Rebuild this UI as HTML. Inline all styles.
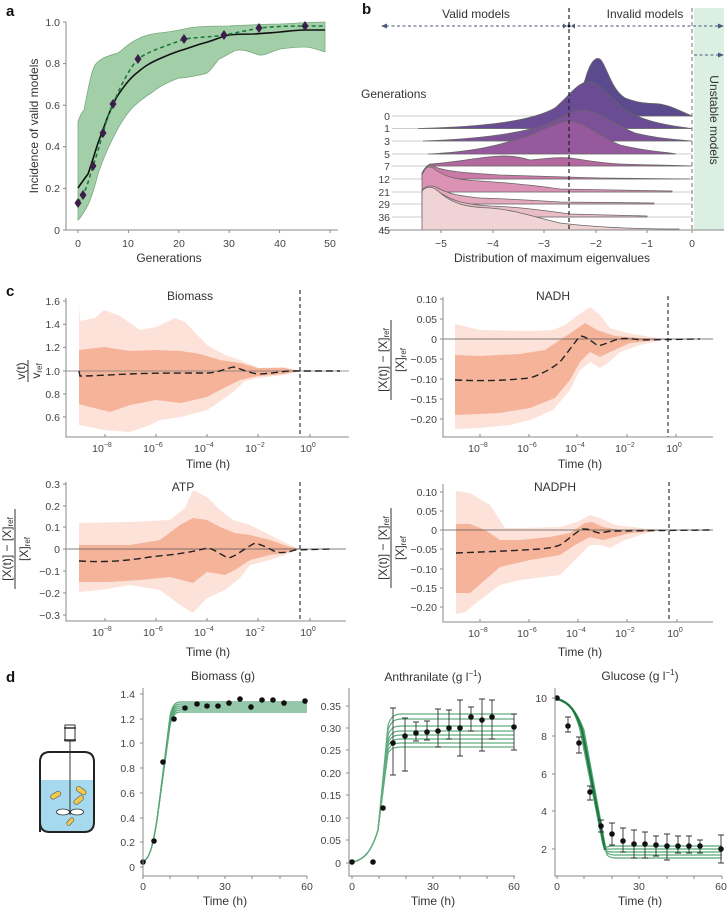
<!DOCTYPE html>
<html><head><meta charset="utf-8"><style>
html,body{margin:0;padding:0;background:#fff;}
svg{display:block;font-family:"Liberation Sans",sans-serif;}
.t{font-size:10.5px;fill:#444;}
.l{font-size:12px;fill:#333;}
.p{font-size:15px;font-weight:bold;fill:#111;}
.ax{stroke:#888;stroke-width:1;fill:none;}
</style></head><body>
<svg width="727" height="908" viewBox="0 0 727 908" xmlns="http://www.w3.org/2000/svg">
<!-- Panel labels -->
<text class="p" x="6" y="16">a</text>
<text class="p" x="362" y="14">b</text>
<text class="p" x="6" y="296">c</text>
<text class="p" x="6" y="682">d</text>

<!-- ===== Panel a ===== -->
<path d="M78,122 C80,115 82,112 84,110 C88,90 91,72 95,65 C100,58 108,56 118,53 C125,48 130,42 138,39 C145,35 152,34 159,33 C170,32 180,30 189,28 C200,26 215,26 229,26 C250,25 265,24 280,24 C300,23 315,22 325,22 L325,52 C318,50 312,47 305,47 C295,47 288,48 280,49 C270,52 264,56 259,55 C250,52 242,48 234,51 C228,54 224,57 219,59 C212,68 208,74 204,74 C195,76 186,78 179,78 C168,82 160,86 154,91 C145,97 135,104 128,113 C121,122 117,130 113,138 C107,150 102,162 98,174 C95,186 92,196 88,205 C84,212 81,218 78,220 Z" fill="#a3cfa8" stroke="#7aa97f" stroke-width="0.8"/>
<path d="M78,188 C82,182 85,178 88,174 C92,163 95,152 98,143 C102,132 105,124 108,116 C112,107 114,101 118,95 C125,85 130,78 138,72 C145,66 150,63 159,59 C168,55 173,53 179,51 C190,48 196,45 204,43 C215,40 220,37 229,35 C238,34 246,34 254,34 C265,33 272,33 280,32 C290,31 297,30 305,30 L325,30" fill="none" stroke="#111" stroke-width="1.6"/>
<path d="M78,203 L83,195 C88,185 90,175 93,166 C97,155 100,143 103,133 C106,123 109,112 113,104 C120,88 128,70 138,59 C150,50 170,45 184,39 C200,37 212,37 224,35 C240,32 250,30 259,28 C280,26 295,26 305,26 L325,26" fill="none" stroke="#1b7a3e" stroke-width="1.6" stroke-dasharray="4,3"/>
<g fill="#3b1d4a">
<path d="M78,198 l3.5,5 -3.5,5 -3.5,-5z"/><path d="M83,190 l3.5,5 -3.5,5 -3.5,-5z"/><path d="M93,161 l3.5,5 -3.5,5 -3.5,-5z"/><path d="M103,128 l3.5,5 -3.5,5 -3.5,-5z"/><path d="M113,99 l3.5,5 -3.5,5 -3.5,-5z"/><path d="M138,54 l3.5,5 -3.5,5 -3.5,-5z"/><path d="M184,34 l3.5,5 -3.5,5 -3.5,-5z"/><path d="M224,30 l3.5,5 -3.5,5 -3.5,-5z"/><path d="M259,23 l3.5,5 -3.5,5 -3.5,-5z"/><path d="M305,21 l3.5,5 -3.5,5 -3.5,-5z"/>
</g>
<path class="ax" d="M66,22 V230 H338"/>
<g class="ax"><path d="M63,22h3M63,63.6h3M63,105.2h3M63,146.8h3M63,188.4h3M63,230h3"/><path d="M78,230v3M128.4,230v3M178.8,230v3M229.2,230v3M279.6,230v3M330,230v3"/></g>
<g class="t" text-anchor="end"><text x="60" y="26">1.0</text><text x="60" y="67">0.8</text><text x="60" y="109">0.6</text><text x="60" y="150">0.4</text><text x="60" y="192">0.2</text><text x="60" y="234">0</text></g>
<g class="t" text-anchor="middle"><text x="78" y="247">0</text><text x="128" y="247">10</text><text x="179" y="247">20</text><text x="229" y="247">30</text><text x="280" y="247">40</text><text x="330" y="247">50</text></g>
<text class="l" x="169" y="262" text-anchor="middle">Generations</text>
<text class="l" x="38" y="126" text-anchor="middle" transform="rotate(-90 38 126)">Incidence of valid models</text>

<!-- ===== Panel b ===== -->
<rect x="694" y="8" width="30" height="222" fill="#dcefe3"/>
<text class="l" x="710" y="120" text-anchor="middle" transform="rotate(90 710 120)">Unstable models</text>
<text class="l" x="476" y="18" text-anchor="middle">Valid models</text>
<text class="l" x="645" y="18" text-anchor="middle">Invalid models</text>
<g stroke="#4a5a7a" stroke-width="1" stroke-dasharray="3,2.5" fill="none"><path d="M386,26 H566"/><path d="M572,26 H719"/><path d="M694,55 H719"/></g>
<g fill="#4a5a7a"><path d="M381,26 l6,-2.5 v5z"/><path d="M567,26 l-4,-2.5v5z"/><path d="M571,26 l4,-2.5v5z"/><path d="M724,26 l-6,-2.5 v5z"/><path d="M724,55 l-6,-2.5 v5z"/></g>
<circle cx="569" cy="26" r="1.5" fill="#111"/>
<g stroke="#ccc" stroke-width="1"><path d="M392,116H692M392,128.5H692M392,141H692M392,154H692M392,166H692M392,179H692M392,192H692M392,204H692M392,217H692M392,230H692"/></g>
<g stroke="#666" stroke-width="0.8">
<path fill="#5b4b8e" d="M535,116 C560,114 575,105 585,80 C590,62 596,55 601,60 C608,70 612,90 625,98 C640,104 650,103 660,104 C672,106 682,112 692,116 Z"/>
<path fill="#6a4c94" d="M418,128.5 C480,127 530,122 555,108 C570,95 578,82 588,82 C600,82 610,98 625,110 C645,122 670,126 692,128.5 Z"/>
<path fill="#7d5198" d="M423,141 C480,139 520,133 545,125 C565,116 575,109 585,110 C600,112 615,125 635,133 C660,139 680,140 692,141Z"/>
<path fill="#97599d" d="M428,154 C470,152 500,146 530,135 C550,127 560,121 570,121 C585,122 600,137 620,145 C645,151 665,152 676,154Z"/>
<path fill="#b3689f" d="M427,166 L430,164 C470,162 500,150 530,160 C550,158 560,157 570,158 C585,160 600,163 620,164 C645,165 670,165 692,166Z"/>
<path fill="#c97aa8" d="M422,179 L422,173 C425,167 428,164 433,166 C445,172 470,173 500,175 C530,176 560,177 600,178 L690,179 Z"/>
<path fill="#db92b4" d="M422,192 L422,175 C425,168 428,165 433,168 C445,178 460,180 480,181 C510,183 540,186 560,189 L672,191 L672,192 Z"/>
<path fill="#e4a9bd" d="M422,204 L422,190 C426,186 430,185 436,187 C448,194 460,196 480,198 C510,199 530,200 560,202 L654,203 L654,204 Z"/>
<path fill="#eabcc6" d="M422,217 L422,193 C426,188 430,187 436,190 C450,200 460,204 490,206 C520,207 540,210 570,214 L647,216 L647,217 Z"/>
<path fill="#f0d3d5" d="M422,230 L422,191 C426,186 432,186 438,191 C452,204 465,207 490,208 C515,210 530,216 560,223 C600,228 640,229 679,229 L679,230 Z"/>
</g>
<path d="M569,8 V232" stroke="#222" stroke-width="1.2" stroke-dasharray="4,3"/>
<path d="M692,8 V232" stroke="#888" stroke-width="1.2" stroke-dasharray="4,3"/>
<path class="ax" d="M380,230 H724"/>
<g class="ax"><path d="M441,230v3M493,230v3M544,230v3M596,230v3M647,230v3M692,230v3"/></g>
<g class="t" text-anchor="middle"><text x="441" y="247">−5</text><text x="493" y="247">−4</text><text x="544" y="247">−3</text><text x="596" y="247">−2</text><text x="647" y="247">−1</text><text x="692" y="247">0</text></g>
<text class="l" x="552" y="262" text-anchor="middle">Distribution of maximum eigenvalues</text>
<text class="l" x="361" y="98">Generations</text>
<g class="t" text-anchor="end"><text x="390" y="120">0</text><text x="390" y="132">1</text><text x="390" y="145">3</text><text x="390" y="158">5</text><text x="390" y="170">7</text><text x="390" y="183">12</text><text x="390" y="196">21</text><text x="390" y="208">29</text><text x="390" y="221">36</text><text x="390" y="234">45</text></g>

<!-- ===== Panel c: Biomass ===== -->
<path fill="#fce2d8" d="M79,305 L80,321 L95,318 L104,310 L120,316 L140,330 L156,327 L175,318 L185,322 L207,345 L225,355 L240,360 L258,368 L284,367 L300,371 L284,375 L258,378 L245,381 L233,392 L215,405 L207,410 L181,417 L160,420 L150,425 L130,432 L104,430 L90,427 L79,425 Z"/>
<path fill="#f5b39a" d="M79,350 L104,347 L130,351 L156,350 L181,351 L200,354 L220,360 L240,363 L258,368 L284,368 L300,371 L284,374 L258,376 L240,380 L220,390 L207,397 L181,403 L156,400 L130,405 L110,412 L90,407 L79,404 Z"/>
<path d="M66,371H349" stroke="#777" stroke-width="0.8"/>
<path d="M79,371 L80,376 C95,376 104,375 130,374 C150,373 181,373 207,373 C215,373 222,370 233,367 C240,368 245,372 258,374 C268,374 275,372 290,371 L340,371" fill="none" stroke="#222" stroke-width="1.4" stroke-dasharray="7,4"/>
<path d="M300,290 V437" stroke="#222" stroke-width="1.1" stroke-dasharray="4,3"/>
<path class="ax" d="M66,298 V437 H349"/>
<g class="ax"><path d="M63,301h3M63,324.2h3M63,347.4h3M63,371h3M63,394h3M63,417h3"/><path d="M105,437v-3M156,437v-3M207,437v-3M258,437v-3M310,437v-3"/></g>
<g class="t" text-anchor="end"><text x="60" y="305">1.6</text><text x="60" y="328">1.4</text><text x="60" y="351">1.2</text><text x="60" y="375">1.0</text><text x="60" y="398">0.8</text><text x="60" y="421">0.6</text></g>
<g class="t" text-anchor="middle"><text x="102" y="452">10<tspan font-size="7" dy="-5">−8</tspan></text><text x="153" y="452">10<tspan font-size="7" dy="-5">−6</tspan></text><text x="204" y="452">10<tspan font-size="7" dy="-5">−4</tspan></text><text x="255" y="452">10<tspan font-size="7" dy="-5">−2</tspan></text><text x="308" y="452">10<tspan font-size="7" dy="-5">0</tspan></text></g>
<text class="l" x="208" y="468" text-anchor="middle">Time (h)</text>
<text class="l" x="190" y="300" text-anchor="middle">Biomass</text>
<g transform="rotate(-90 30 371)"><text class="l" x="30" y="366" text-anchor="middle">v(t)</text><path d="M19,369H41" stroke="#333"/><text class="l" x="30" y="381" text-anchor="middle">v<tspan font-size="8" dy="2">ref</tspan></text></g>

<!-- ===== Panel c: NADH ===== -->
<path fill="#fce2d8" d="M455,324 L480,330 L529,331 L553,330 L565,325 L578,315 L590,307 L600,315 L610,328 L627,333 L651,337 L666,339 L640,345 L620,352 L608,363 L600,368 L590,362 L580,370 L570,390 L553,410 L530,420 L510,425 L480,428 L455,429 Z"/>
<path fill="#f5b39a" d="M455,355 L480,356 L520,354 L545,350 L560,340 L575,330 L585,323 L597,330 L615,336 L640,338 L666,339 L630,343 L610,352 L600,357 L590,352 L580,362 L570,380 L555,398 L530,408 L500,413 L455,415 Z"/>
<path d="M443,339H713" stroke="#555" stroke-width="0.8"/>
<path d="M455,380 C480,381 500,381 530,378 C545,373 555,366 560,362 C568,352 572,346 580,336 C585,336 590,340 598,346 C602,345 605,344 615,340 C622,338 630,338 640,340 L700,339" fill="none" stroke="#222" stroke-width="1.4" stroke-dasharray="7,4"/>
<path d="M668,296 V437" stroke="#222" stroke-width="1.1" stroke-dasharray="4,3"/>
<path class="ax" d="M443,297 V437 H713"/>
<g class="ax"><path d="M440,299h3M440,319h3M440,339h3M440,359h3M440,379h3M440,399h3M440,419h3"/><path d="M480,437v-3M529,437v-3M577,437v-3M627,437v-3M676,437v-3"/></g>
<g class="t" text-anchor="end"><text x="437" y="303">0.10</text><text x="437" y="323">0.05</text><text x="437" y="343">0</text><text x="437" y="363">−0.05</text><text x="437" y="383">−0.10</text><text x="437" y="403">−0.15</text><text x="437" y="423">−0.20</text></g>
<g class="t" text-anchor="middle"><text x="478" y="452">10<tspan font-size="7" dy="-5">−8</tspan></text><text x="527" y="452">10<tspan font-size="7" dy="-5">−6</tspan></text><text x="575" y="452">10<tspan font-size="7" dy="-5">−4</tspan></text><text x="625" y="452">10<tspan font-size="7" dy="-5">−2</tspan></text><text x="674" y="452">10<tspan font-size="7" dy="-5">0</tspan></text></g>
<text class="l" x="580" y="468" text-anchor="middle">Time (h)</text>
<text class="l" x="553" y="300" text-anchor="middle">NADH</text>
<g transform="rotate(-90 392 360)"><text class="l" x="392" y="355" text-anchor="middle">[X(t)] − [X]<tspan font-size="8" dy="2">ref</tspan></text><path d="M352,359H432" stroke="#333"/><text class="l" x="392" y="372" text-anchor="middle">[X]<tspan font-size="8" dy="2">ref</tspan></text></g>

<!-- ===== Panel c: ATP ===== -->
<path fill="#fce2d8" d="M79,523 L130,522 L170,520 L185,508 L193,490 L207,497 L220,510 L233,520 L250,525 L270,535 L290,545 L300,549 L285,555 L270,560 L250,565 L240,578 L225,590 L207,598 L193,613 L180,605 L160,590 L130,585 L100,590 L79,592 Z"/>
<path fill="#f5b39a" d="M79,545 L130,545 L160,540 L180,525 L193,518 L207,520 L220,527 L235,533 L250,535 L270,540 L290,547 L300,549 L285,553 L270,555 L250,560 L235,570 L225,575 L207,572 L193,583 L170,577 L140,580 L110,582 L79,582 Z"/>
<path d="M66,549H346" stroke="#555" stroke-width="0.8"/>
<path d="M79,561 C100,562 120,562 150,557 C165,555 180,555 207,548 C212,548 218,553 228,558 C235,557 245,548 255,543 C262,545 268,548 270,549 C277,553 283,554 295,550 L330,549" fill="none" stroke="#222" stroke-width="1.4" stroke-dasharray="7,4"/>
<path d="M300,482 V621" stroke="#222" stroke-width="1.1" stroke-dasharray="4,3"/>
<path class="ax" d="M66,482 V621 H346"/>
<g class="ax"><path d="M63,484h3M63,506h3M63,527h3M63,549h3M63,571h3M63,593h3M63,615h3"/><path d="M105,621v-3M156,621v-3M207,621v-3M258,621v-3M310,621v-3"/></g>
<g class="t" text-anchor="end"><text x="60" y="488">0.3</text><text x="60" y="510">0.2</text><text x="60" y="531">0.1</text><text x="60" y="553">0</text><text x="60" y="575">−0.1</text><text x="60" y="597">−0.2</text><text x="60" y="619">−0.3</text></g>
<g class="t" text-anchor="middle"><text x="102" y="636">10<tspan font-size="7" dy="-5">−8</tspan></text><text x="153" y="636">10<tspan font-size="7" dy="-5">−6</tspan></text><text x="204" y="636">10<tspan font-size="7" dy="-5">−4</tspan></text><text x="255" y="636">10<tspan font-size="7" dy="-5">−2</tspan></text><text x="308" y="636">10<tspan font-size="7" dy="-5">0</tspan></text></g>
<text class="l" x="208" y="656" text-anchor="middle">Time (h)</text>
<text class="l" x="183" y="491" text-anchor="middle">ATP</text>
<g transform="rotate(-90 16 549)"><text class="l" x="16" y="544" text-anchor="middle">[X(t)] − [X]<tspan font-size="8" dy="2">ref</tspan></text><path d="M-24,548H56" stroke="#333"/><text class="l" x="16" y="561" text-anchor="middle">[X]<tspan font-size="8" dy="2">ref</tspan></text></g>

<!-- ===== Panel c: NADPH ===== -->
<path fill="#fce2d8" d="M456,491 L470,493 L490,505 L505,528 L520,528 L560,527 L577,522 L590,515 L600,518 L615,525 L650,529 L669,530 L650,532 L625,540 L610,548 L600,545 L590,545 L575,560 L560,575 L520,580 L500,585 L480,600 L465,612 L456,614 Z"/>
<path fill="#f5b39a" d="M456,524 L470,524 L485,530 L500,540 L520,540 L550,537 L570,533 L585,523 L592,522 L603,527 L625,531 L669,530 L630,533 L615,537 L603,540 L590,537 L575,545 L560,555 L530,560 L500,567 L485,580 L470,593 L456,593 Z"/>
<path d="M443,530H713" stroke="#555" stroke-width="0.8"/>
<path d="M456,553 C480,552 510,551 540,549 C550,548 555,547 560,545 C568,540 572,535 582,529 C585,529 588,529 590,530 C595,532 598,533 600,533 C605,532 610,531 615,531 L710,530" fill="none" stroke="#222" stroke-width="1.4" stroke-dasharray="7,4"/>
<path d="M669,482 V622" stroke="#222" stroke-width="1.1" stroke-dasharray="4,3"/>
<path class="ax" d="M443,484 V622 H713"/>
<g class="ax"><path d="M440,492h3M440,511h3M440,530h3M440,549h3M440,569h3M440,588h3M440,607h3"/><path d="M480,622v-3M529,622v-3M578,622v-3M627,622v-3M677,622v-3"/></g>
<g class="t" text-anchor="end"><text x="437" y="496">0.10</text><text x="437" y="515">0.05</text><text x="437" y="534">0</text><text x="437" y="553">−0.05</text><text x="437" y="573">−0.10</text><text x="437" y="592">−0.15</text><text x="437" y="611">−0.20</text></g>
<g class="t" text-anchor="middle"><text x="478" y="637">10<tspan font-size="7" dy="-5">−8</tspan></text><text x="527" y="637">10<tspan font-size="7" dy="-5">−6</tspan></text><text x="576" y="637">10<tspan font-size="7" dy="-5">−4</tspan></text><text x="625" y="637">10<tspan font-size="7" dy="-5">−2</tspan></text><text x="675" y="637">10<tspan font-size="7" dy="-5">0</tspan></text></g>
<text class="l" x="580" y="656" text-anchor="middle">Time (h)</text>
<text class="l" x="555" y="491" text-anchor="middle">NADPH</text>
<g transform="rotate(-90 392 548)"><text class="l" x="392" y="543" text-anchor="middle">[X(t)] − [X]<tspan font-size="8" dy="2">ref</tspan></text><path d="M352,547H432" stroke="#333"/><text class="l" x="392" y="560" text-anchor="middle">[X]<tspan font-size="8" dy="2">ref</tspan></text></g>

<!-- ===== Panel d: reactor icon ===== -->
<path d="M40,780 H94 V822 Q94,832 84,832 H50 Q40,832 40,822 Z" fill="#a6d8ee"/>
<path d="M40,832 V762 Q40,752 50,752 H84 Q94,752 94,762 V822 Q94,832 84,832 H50 Q40,832 40,822 Z" fill="none" stroke="#222" stroke-width="2"/>
<rect x="65" y="725" width="10" height="16" fill="#fff" stroke="#333" stroke-width="1"/>
<path d="M64,728H76M64,740H76" stroke="#333" stroke-width="1.5"/>
<path d="M70,741V815" stroke="#333" stroke-width="1"/>
<ellipse cx="63" cy="812" rx="6.5" ry="3" fill="#fff" stroke="#333" stroke-width="0.8"/>
<ellipse cx="77" cy="812" rx="6.5" ry="3" fill="#fff" stroke="#333" stroke-width="0.8"/>
<g fill="#f2c94c" stroke="#555" stroke-width="0.6">
<rect x="50" y="793" width="11" height="5" rx="2.5" transform="rotate(-30 55 795)"/>
<rect x="76" y="788" width="11" height="5" rx="2.5" transform="rotate(35 81 790)"/>
<rect x="73" y="798" width="11" height="5" rx="2.5" transform="rotate(-40 78 800)"/>
<rect x="66" y="820" width="9" height="4" rx="2" transform="rotate(-50 70 822)"/>
</g>

<!-- ===== Panel d: Biomass ===== -->
<g fill="none" stroke="#1e8a4a" stroke-width="1.2" opacity="0.75">
<path d="M143,862 C150,858 153,845 157,820 L170,716 C172,706 175,702 180,702 L307,702"/>
<path d="M143,862 C150,858 153,845 157,820 L170,718 C172,708 175,704 180,704 L307,704"/>
<path d="M143,862 C150,858 153,845 157,820 L170,720 C172,710 175,706 180,706 L307,706"/>
<path d="M143,862 C150,858 153,845 157,820 L170,722 C172,712 175,708 180,708 L307,708"/>
<path d="M143,862 C150,858 153,845 157,820 L170,724 C172,714 175,710 180,710 L307,710"/>
<path d="M143,862 C150,858 153,845 157,820 L170,726 C172,716 175,712 180,712 L307,712"/>
</g>
<g fill="#111"><circle cx="143" cy="862" r="2.8"/><circle cx="154" cy="841" r="2.8"/><circle cx="163" cy="762" r="2.8"/><circle cx="174" cy="719" r="2.8"/><circle cx="185" cy="708" r="2.8"/><circle cx="197" cy="704" r="2.8"/><circle cx="207" cy="706" r="2.8"/><circle cx="218" cy="706" r="2.8"/><circle cx="229" cy="703" r="2.8"/><circle cx="240" cy="699" r="2.8"/><circle cx="251" cy="707" r="2.8"/><circle cx="262" cy="700" r="2.8"/><circle cx="273" cy="700" r="2.8"/><circle cx="284" cy="703" r="2.8"/><circle cx="305" cy="701" r="2.8"/></g>
<path class="ax" d="M143,688 V876 H307"/>
<g class="ax"><path d="M140,694h3M140,719h3M140,743h3M140,768h3M140,793h3M140,818h3M140,842h3M140,867h3"/><path d="M143,876v3M170,876v3M198,876v3M225,876v3M252,876v3M280,876v3M307,876v3"/></g>
<g class="t" text-anchor="end"><text x="135" y="698">1.4</text><text x="135" y="723">1.2</text><text x="135" y="747">1.0</text><text x="135" y="772">0.8</text><text x="135" y="797">0.6</text><text x="135" y="822">0.4</text><text x="135" y="846">0.2</text><text x="135" y="871">0</text></g>
<g class="t" text-anchor="middle"><text x="143" y="890">0</text><text x="225" y="890">30</text><text x="307" y="890">60</text></g>
<text class="l" x="225" y="905" text-anchor="middle">Time (h)</text>
<text class="l" x="223" y="680" text-anchor="middle">Biomass (g)</text>

<!-- ===== Panel d: Anthranilate ===== -->
<g fill="none" stroke="#1e8a4a" stroke-width="1.2" opacity="0.7">
<path d="M352,862 C365,860 372,850 378,830 L388,725 C391,716 395,714 402,714 L514,714"/>
<path d="M352,862 C365,860 372,850 378,830 L388,730 C391,721 395,719 402,719 L514,719"/>
<path d="M352,862 C365,860 372,850 378,830 L388,735 C391,727 395,726 402,726 L514,726"/>
<path d="M352,862 C365,860 372,850 378,830 L388,740 C391,732 395,731 402,731 L514,731"/>
<path d="M352,862 C365,860 372,850 378,830 L388,743 C391,736 395,735 402,735 L514,735"/>
<path d="M352,862 C365,860 372,850 378,830 L388,746 C391,740 395,739 402,739 L514,739"/>
<path d="M352,862 C365,860 372,850 378,830 L388,750 C391,744 395,743 402,743 L514,743"/>
<path d="M352,862 C365,860 372,850 378,830 L388,753 C391,748 395,747 402,747 L514,747"/>
</g>
<g stroke="#333" stroke-width="0.9" fill="none">
<path d="M393,708V775M390,708h6M390,775h6"/><path d="M405,718V771M402,718h6M402,771h6"/><path d="M416,722V741M413,722h6M413,741h6"/><path d="M427,721V740M424,721h6M424,740h6"/><path d="M438,709V747M435,709h6M435,747h6"/><path d="M449,710V739M446,710h6M446,739h6"/><path d="M460,700V756M457,700h6M457,756h6"/><path d="M471,707V731M468,707h6M468,731h6"/><path d="M482,699V751M479,699h6M479,751h6"/><path d="M492,700V739M489,700h6M489,739h6"/><path d="M514,714V750M511,714h6M511,750h6"/>
</g>
<g fill="#111"><circle cx="352" cy="862" r="2.8"/><circle cx="373" cy="862" r="2.8"/><circle cx="383" cy="808" r="2.8"/><circle cx="393" cy="743" r="2.8"/><circle cx="405" cy="736" r="2.8"/><circle cx="416" cy="733" r="2.8"/><circle cx="427" cy="732" r="2.8"/><circle cx="438" cy="731" r="2.8"/><circle cx="449" cy="728" r="2.8"/><circle cx="460" cy="728" r="2.8"/><circle cx="471" cy="717" r="2.8"/><circle cx="482" cy="720" r="2.8"/><circle cx="492" cy="717" r="2.8"/><circle cx="514" cy="727" r="2.8"/></g>
<path class="ax" d="M349,688 V876 H515"/>
<g class="ax"><path d="M346,706h3M346,728h3M346,750h3M346,773h3M346,795h3M346,818h3M346,840h3M346,863h3"/><path d="M352,876v3M379,876v3M406,876v3M433,876v3M460,876v3M487,876v3M514,876v3"/></g>
<g class="t" text-anchor="end"><text x="341" y="710">0.35</text><text x="341" y="732">0.30</text><text x="341" y="754">0.25</text><text x="341" y="777">0.20</text><text x="341" y="799">0.15</text><text x="341" y="822">0.10</text><text x="341" y="844">0.05</text><text x="341" y="867">0</text></g>
<g class="t" text-anchor="middle"><text x="352" y="890">0</text><text x="433" y="890">30</text><text x="514" y="890">60</text></g>
<text class="l" x="433" y="905" text-anchor="middle">Time (h)</text>
<text class="l" x="433" y="681" text-anchor="middle">Anthranilate (g l<tspan font-size="8" dy="-5">−1</tspan><tspan dy="5">)</tspan></text>

<!-- ===== Panel d: Glucose ===== -->
<g fill="none" stroke="#1e8a4a" stroke-width="1.2" opacity="0.75">
<path d="M557,699 C570,702 575,712 580,730 L603,845 C605,849 608,846 612,846 L722,846"/>
<path d="M557,699 C570,702 575,712 581,730 L604,847 C606,850 609,849 613,849 L722,849"/>
<path d="M557,699 C570,702 576,712 582,730 L605,850 C607,852 610,852 614,852 L722,852"/>
<path d="M557,699 C570,702 576,712 583,730 L606,852 C608,854 611,855 615,855 L722,855"/>
<path d="M557,699 C570,702 577,712 584,730 L607,855 C609,857 612,858 616,858 L722,858"/>
</g>
<path d="M557,699 C570,702 576,712 582,730 L605,850" fill="none" stroke="#1a7a40" stroke-width="2.2"/>
<g stroke="#333" stroke-width="0.9" fill="none">
<path d="M568,717V732M565,717h6M565,732h6"/><path d="M579,737V753M576,737h6M576,753h6"/><path d="M590,786V800M587,786h6M587,800h6"/><path d="M601,820V832M598,820h6M598,832h6"/><path d="M612,823V845M609,823h6M609,845h6"/><path d="M623,828V852M620,828h6M620,852h6"/><path d="M634,830V858M631,830h6M631,858h6"/><path d="M645,832V858M642,832h6M642,858h6"/><path d="M656,836V856M653,836h6M653,856h6"/><path d="M667,834V860M664,834h6M664,860h6"/><path d="M678,836V853M675,836h6M675,853h6"/><path d="M689,836V853M686,836h6M686,853h6"/><path d="M700,840V853M697,840h6M697,853h6"/><path d="M721,835V863M718,835h6M718,863h6"/>
</g>
<g fill="#111"><circle cx="557" cy="698" r="2.8"/><circle cx="568" cy="726" r="2.8"/><circle cx="579" cy="743" r="2.8"/><circle cx="590" cy="792" r="2.8"/><circle cx="601" cy="826" r="2.8"/><circle cx="612" cy="834" r="2.8"/><circle cx="623" cy="841" r="2.8"/><circle cx="634" cy="844" r="2.8"/><circle cx="645" cy="844" r="2.8"/><circle cx="656" cy="845" r="2.8"/><circle cx="667" cy="846" r="2.8"/><circle cx="678" cy="846" r="2.8"/><circle cx="689" cy="846" r="2.8"/><circle cx="700" cy="846" r="2.8"/><circle cx="721" cy="849" r="2.8"/></g>
<path class="ax" d="M555,688 V876 H722"/>
<g class="ax"><path d="M552,698h3M552,736h3M552,774h3M552,811h3M552,849h3"/><path d="M557,876v3M584,876v3M612,876v3M639,876v3M667,876v3M694,876v3M722,876v3"/></g>
<g class="t" text-anchor="end"><text x="547" y="702">10</text><text x="547" y="740">8</text><text x="547" y="778">6</text><text x="547" y="815">4</text><text x="547" y="853">2</text></g>
<g class="t" text-anchor="middle"><text x="557" y="890">0</text><text x="639" y="890">30</text><text x="721" y="890">60</text></g>
<text class="l" x="640" y="905" text-anchor="middle">Time (h)</text>
<text class="l" x="640" y="680" text-anchor="middle">Glucose (g l<tspan font-size="8" dy="-5">−1</tspan><tspan dy="5">)</tspan></text>
</svg>
</body></html>
